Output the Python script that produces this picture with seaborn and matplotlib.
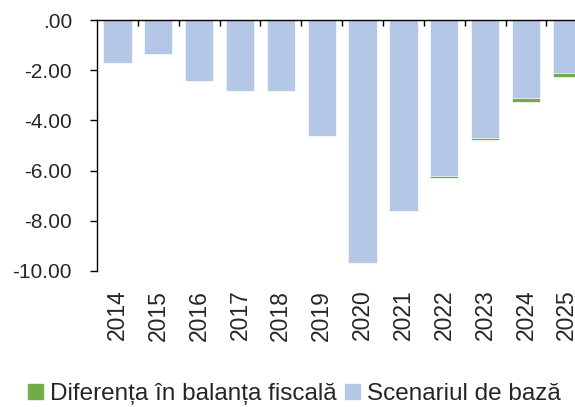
import numpy as np
import pandas as pd
import seaborn as sns
import matplotlib.pyplot as plt
from matplotlib.patches import Patch

years = ['2014', '2015', '2016', '2017', '2018', '2019',
         '2020', '2021', '2022', '2023', '2024', '2025']
scenariu_baza = [-1.71, -1.35, -2.43, -2.83, -2.83, -4.62,
                 -9.68, -7.61, -6.22, -4.69, -3.11, -2.12]
diferenta = [0.0, 0.0, 0.0, 0.0, 0.0, 0.0,
             0.0, 0.0, -0.06, -0.11, -0.16, -0.17]
ytick_vals = [0, -2, -4, -6, -8, -10]
ytick_labels = ['.00', '-2.00', '-4.00', '-6.00', '-8.00', '-10.00']

blue = '#B4C7E7'
green = '#70AD47'

df = pd.DataFrame({'an': years, 'baza': scenariu_baza, 'dif': diferenta})
df['total'] = df['baza'] + df['dif']

sns.set_style('white')
plt.rcParams['font.family'] = ['Liberation Sans', 'DejaVu Sans']

fig = plt.figure(figsize=(5.75, 4.07), dpi=100)
ax = fig.add_axes([97 / 575, 1 - 271 / 407, 1 - 97 / 575, 251 / 407])

# green drawn to the total, blue base drawn over it
sns.barplot(data=df, x='an', y='total', color=green, width=0.69,
            edgecolor='white', linewidth=0.5, saturation=1, ax=ax)
sns.barplot(data=df, x='an', y='baza', color=blue, width=0.69,
            edgecolor='white', linewidth=0.5, saturation=1, ax=ax)

ax.set_ylim(-10, 0)
ax.set_xlim(-0.5, 11.2)
ax.set_yticks(ytick_vals)
ax.set_yticklabels(ytick_labels, fontsize=15)
ax.set_xlabel('')
ax.set_ylabel('')
ax.tick_params(axis='y', left=True, direction='out', length=5, width=1,
               color='black', pad=13)
ax.tick_params(axis='x', which='major', bottom=False, labelsize=16.5,
               labelrotation=90, pad=10)
ax.set_xticks(np.arange(len(years) - 1) + 0.5, minor=True)
ax.tick_params(axis='x', which='minor', top=True, bottom=False,
               direction='in', length=4, width=1, color='black')

for side in ['right', 'bottom']:
    ax.spines[side].set_visible(False)
for side in ['left', 'top']:
    ax.spines[side].set_color('black')
    ax.spines[side].set_linewidth(1)

handles = [Patch(color=green, label='Diferența în balanța fiscală'),
           Patch(color=blue, label='Scenariul de bază')]
fig.legend(handles=handles, loc='center left', ncol=2, frameon=False,
           bbox_to_anchor=(28 / 575, 1 - 394 / 407), fontsize=17.5,
           borderaxespad=0, borderpad=0, handlelength=0.6, handleheight=0.6,
           handletextpad=0.3, columnspacing=0.35)

fig.savefig('out.png', dpi=100)
